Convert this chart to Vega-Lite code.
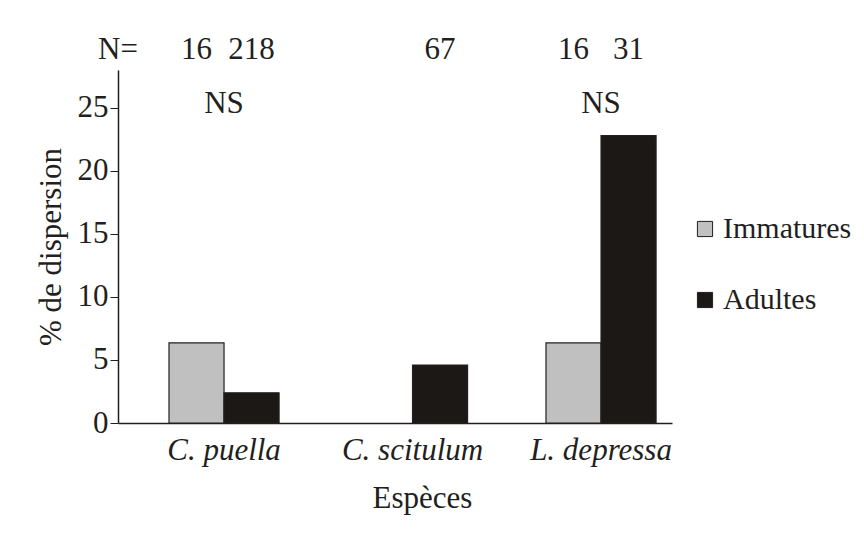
{
  "$schema": "https://vega.github.io/schema/vega-lite/v6.json",
  "autosize": "none",
  "width": 554,
  "height": 353,
  "padding": {"left": 118, "top": 70, "right": 192, "bottom": 115},
  "background": "white",
  "config": {
    "font": "Liberation Serif",
    "view": {"stroke": null},
    "text": {"font": "Liberation Serif", "fontSize": 31, "color": "#231f20"}
  },
  "datasets": {
    "bars": [
      {"species": "C. puella", "stage": "Immatures", "value": 6.35, "n": "16"},
      {"species": "C. puella", "stage": "Adultes", "value": 2.4, "n": "218"},
      {"species": "C. scitulum", "stage": "Adultes", "value": 4.6, "n": "67"},
      {"species": "L. depressa", "stage": "Immatures", "value": 6.35, "n": "16"},
      {"species": "L. depressa", "stage": "Adultes", "value": 22.8, "n": "31"}
    ],
    "tests": [
      {"species": "C. puella", "label": "NS"},
      {"species": "L. depressa", "label": "NS"}
    ],
    "nlabel": [
      {"label": "N="}
    ]
  },
  "layer": [
    {
      "layer": [
        {
          "data": {"name": "bars"},
          "mark": {"type": "bar", "stroke": "#231f20", "strokeWidth": 1.2},
          "encoding": {
            "x": {
              "field": "species", "type": "nominal",
              "scale": {"domain": ["C. puella", "C. scitulum", "L. depressa"], "paddingInner": 0.416, "paddingOuter": 0.1775, "align": 0.762},
              "axis": {
                "title": "Espèces", "titleFont": "Liberation Serif", "titleFontSize": 31, "titleFontWeight": "normal", "titleColor": "#231f20", "titlePadding": 18, "titleX": 304,
                "labelFont": "Liberation Serif", "labelFontSize": 31, "labelFontStyle": "italic", "labelColor": "#231f20", "labelPadding": 12, "labelAngle": 0,
                "ticks": false, "domainColor": "#231f20", "domainWidth": 1.5
              }
            },
            "xOffset": {"field": "stage", "type": "nominal", "scale": {"domain": ["Immatures", "Adultes"], "paddingInner": 0, "paddingOuter": 0}},
            "y": {
              "field": "value", "type": "quantitative",
              "scale": {"domain": [0, 28], "nice": false},
              "axis": {
                "title": "% de dispersion", "titleFont": "Liberation Serif", "titleFontSize": 31, "titleFontWeight": "normal", "titleColor": "#231f20", "titlePadding": 10,
                "values": [0, 5, 10, 15, 20, 25], "grid": false,
                "labelFont": "Liberation Serif", "labelFontSize": 31, "labelColor": "#231f20", "labelPadding": 2,
                "tickSize": 8, "tickColor": "#231f20", "domainColor": "#231f20", "domainWidth": 1.5
              }
            },
            "color": {
              "field": "stage", "type": "nominal",
              "scale": {"domain": ["Immatures", "Adultes"], "range": ["#c0c0c0", "#1c1816"]},
              "legend": {
                "title": null, "orient": "none", "legendX": 572, "legendY": 144,
                "labelFont": "Liberation Serif", "labelFontSize": 30, "labelColor": "#231f20", "labelOffset": 3,
                "symbolType": "square", "symbolSize": 230, "symbolStrokeColor": "#231f20", "symbolStrokeWidth": 1,
                "rowPadding": 41
              }
            }
          }
        },
        {
          "data": {"name": "bars"},
          "mark": {"type": "text", "baseline": "middle", "align": "center"},
          "encoding": {
            "x": {"field": "species", "type": "nominal"},
            "xOffset": {"field": "stage", "type": "nominal"},
            "y": {"datum": 29.6},
            "text": {"field": "n"}
          }
        },
        {
          "data": {"name": "tests"},
          "mark": {"type": "text", "baseline": "middle", "align": "center"},
          "encoding": {
            "x": {"field": "species", "type": "nominal"},
            "y": {"datum": 25.3},
            "text": {"field": "label"}
          }
        }
      ]
    },
    {
      "data": {"name": "nlabel"},
      "mark": {"type": "text", "baseline": "middle", "align": "center"},
      "encoding": {
        "x": {"datum": 0, "type": "quantitative", "scale": {"domain": [0, 1]}, "axis": null},
        "y": {"datum": 29.6},
        "text": {"field": "label"}
      }
    }
  ],
  "resolve": {"scale": {"x": "independent"}, "axis": {"x": "independent"}}
}
